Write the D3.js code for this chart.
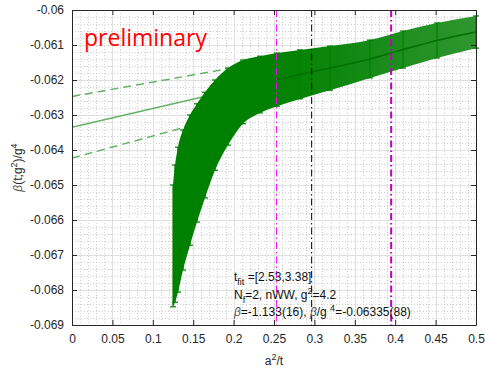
<!DOCTYPE html>
<html>
<head>
<meta charset="utf-8">
<script src="https://cdn.jsdelivr.net/npm/d3@7"></script>
<style>
  html, body { margin: 0; padding: 0; background: #fff; }
  svg { display: block; font-family: "Liberation Sans", Arial, Helvetica, sans-serif; }
</style>
</head>
<body>
<svg id="chart" width="485" height="369"></svg>
<script>
// flow data: a^2/t, beta(t;g^2)/g^4 and its error
const a2t = [0.1250, 0.1275, 0.1312, 0.1374, 0.1460, 0.1547, 0.1646, 0.1770, 0.1931,
             0.2116, 0.2327, 0.2537, 0.2822, 0.3193, 0.3688, 0.4097, 0.4517, 0.5000];
const betaVal = [-0.06674, -0.06639, -0.06599, -0.06543, -0.06486, -0.06437, -0.06386, -0.06329, -0.06276,
                 -0.06234, -0.06213, -0.06199, -0.06184, -0.06166, -0.06140, -0.06113, -0.06087, -0.06063];
const betaErr = [0.00174, 0.00196, 0.00207, 0.00200, 0.00186, 0.00169, 0.00151, 0.00129, 0.00110,
                 0.00091, 0.00081, 0.00076, 0.00070, 0.00063, 0.00054, 0.00053, 0.00050, 0.00046];

// linear extrapolation a^2/t -> 0, with its error band
const fitX = [0, 0.3];
const fitMid = [-0.06335, -0.06174];
const fitUp = [-0.06247, -0.06124];
const fitLo = [-0.06423, -0.06234];

// vertical markers (a^2/t)
const vLines = [
  { x: 0.253, color: "#ff00ff", w: 1 },
  { x: 0.2966, color: "#000000", w: 1 },
  { x: 0.3950, color: "#bf00bf", w: 2 }
];

const xTicks = [0, 0.05, 0.1, 0.15, 0.2, 0.25, 0.3, 0.35, 0.4, 0.45, 0.5];
const yTicks = [-0.069, -0.068, -0.067, -0.066, -0.065, -0.064, -0.063, -0.062, -0.061, -0.06];

const annot = [
  [["t", ""], ["fit", "sub"], [" =[2.53,3.38]", ""]],
  [["N", ""], ["f", "sub"], ["=2, nWW, g", ""], ["2", "sup"], ["=4.2", ""]],
  [["β", "", "#555"], ["=-1.133(16), ", ""], ["β", "", "#555"], ["/g ", ""], ["4", "sup"], ["=-0.06335(88)", ""]]
];

const margin = { top: 10, right: 9, bottom: 44, left: 72 };
const W = 485, H = 369;

const svg = d3.select("#chart");

const x = d3.scaleLinear().domain([0, 0.5]).range([margin.left, W - margin.right]);
const y = d3.scaleLinear().domain([-0.069, -0.06]).range([H - margin.bottom, margin.top]);

const x0 = x.range()[0], x1 = x.range()[1];
const y0 = y.range()[0], y1 = y.range()[1];

// grid: minor dotted, major solid
const grid = svg.append("g");
grid.selectAll(".mx").data(d3.range(0, 51).map(i => i * 0.01)).join("line")
  .attr("x1", d => Math.round(x(d)) + 0.5).attr("x2", d => Math.round(x(d)) + 0.5)
  .attr("y1", y1).attr("y2", y0)
  .attr("stroke", "#d0d0d0").attr("stroke-width", 1).attr("stroke-dasharray", "1,2");
grid.selectAll(".my").data(d3.range(0, 46).map(i => -0.069 + i * 0.0002)).join("line")
  .attr("y1", d => Math.round(y(d)) + 0.5).attr("y2", d => Math.round(y(d)) + 0.5)
  .attr("x1", x0).attr("x2", x1)
  .attr("stroke", "#d0d0d0").attr("stroke-width", 1).attr("stroke-dasharray", "1,2");
grid.selectAll(".gx").data(xTicks).join("line")
  .attr("x1", d => Math.round(x(d)) + 0.5).attr("x2", d => Math.round(x(d)) + 0.5)
  .attr("y1", y1).attr("y2", y0)
  .attr("stroke", "#e0e0e0").attr("stroke-width", 1);
grid.selectAll(".gy").data(yTicks).join("line")
  .attr("y1", d => Math.round(y(d)) + 0.5).attr("y2", d => Math.round(y(d)) + 0.5)
  .attr("x1", x0).attr("x2", x1)
  .attr("stroke", "#e0e0e0").attr("stroke-width", 1);

// fit lines sit under the data
const fitColor = "#66b366";
[[fitMid, null], [fitUp, "8,5"], [fitLo, "8,5"]].forEach(([vals, dash]) => {
  svg.append("line")
    .attr("x1", x(fitX[0])).attr("y1", y(vals[0]))
    .attr("x2", x(fitX[1])).attr("y2", y(vals[1]))
    .attr("stroke", fitColor).attr("stroke-width", 1.5)
    .attr("stroke-dasharray", dash);
});

// data band: dense error bars drawn as a filled area + bars with caps
const pts = a2t.map((d, i) => ({ x: d, v: betaVal[i], e: betaErr[i] }));

const grad = svg.append("defs").append("linearGradient")
  .attr("id", "bandGrad").attr("gradientUnits", "userSpaceOnUse")
  .attr("x1", x(0.25)).attr("x2", x(0.5)).attr("y1", 0).attr("y2", 0);
grad.append("stop").attr("offset", 0).attr("stop-color", "#008000");
grad.append("stop").attr("offset", 1).attr("stop-color", "#2f962f");

svg.append("path").datum(pts)
  .attr("d", d3.area().curve(d3.curveMonotoneX)
    .x(d => x(d.x)).y0(d => y(d.v - d.e)).y1(d => y(d.v + d.e)))
  .attr("fill", "url(#bandGrad)");

const bars = svg.append("g").attr("stroke", "#008000").attr("stroke-width", 1.2);
bars.selectAll(".eb").data(pts).join("line")
  .attr("x1", d => x(d.x)).attr("x2", d => x(d.x))
  .attr("y1", d => y(d.v - d.e)).attr("y2", d => y(d.v + d.e));
bars.selectAll(".ct").data(pts).join("line")
  .attr("x1", d => x(d.x) - 3).attr("x2", d => x(d.x) + 3)
  .attr("y1", d => y(d.v + d.e)).attr("y2", d => y(d.v + d.e));
bars.selectAll(".cb").data(pts).join("line")
  .attr("x1", d => x(d.x) - 3).attr("x2", d => x(d.x) + 3)
  .attr("y1", d => y(d.v - d.e)).attr("y2", d => y(d.v - d.e));

svg.append("path").datum(pts.filter(d => d.x > 0.25))
  .attr("d", d3.line().curve(d3.curveMonotoneX).x(d => x(d.x)).y(d => y(d.v)))
  .attr("fill", "none").attr("stroke", "#007000").attr("stroke-width", 1.5);

// vertical dash-dot lines
svg.selectAll(".vl").data(vLines).join("line")
  .attr("x1", d => x(d.x)).attr("x2", d => x(d.x))
  .attr("y1", y1).attr("y2", y0)
  .attr("stroke", d => d.color).attr("stroke-width", d => d.w)
  .attr("stroke-dasharray", "7,3,1.5,3");

// axes box
const axCol = "#262626";
const fmt = d => String(d);
const xAxis = svg.append("g").attr("transform", `translate(0,${y0})`)
  .call(d3.axisBottom(x).tickValues(xTicks).tickFormat(fmt).tickSizeInner(-5).tickSizeOuter(0).tickPadding(9));
const xTop = svg.append("g").attr("transform", `translate(0,${y1})`)
  .call(d3.axisTop(x).tickValues(xTicks).tickFormat("").tickSizeInner(-5).tickSizeOuter(0));
const yAxis = svg.append("g").attr("transform", `translate(${x0},0)`)
  .call(d3.axisLeft(y).tickValues(yTicks).tickFormat(fmt).tickSizeInner(-5).tickSizeOuter(0).tickPadding(8));
const yRight = svg.append("g").attr("transform", `translate(${x1},0)`)
  .call(d3.axisRight(y).tickValues(yTicks).tickFormat("").tickSizeInner(-5).tickSizeOuter(0));

[xAxis, xTop, yAxis, yRight].forEach(g => {
  g.select(".domain").attr("stroke", axCol);
  g.selectAll(".tick line").attr("stroke", axCol);
  g.selectAll("text").attr("fill", axCol).attr("font-size", 12)
    .attr("font-family", "Liberation Sans, Arial, sans-serif");
});

// axis labels
const xl = svg.append("text").attr("x", (x0 + x1) / 2).attr("y", 365)
  .attr("text-anchor", "middle").attr("font-size", 12).attr("fill", axCol);
xl.append("tspan").text("a");
xl.append("tspan").attr("dy", -5).attr("font-size", 9).text("2");
xl.append("tspan").attr("dy", 5).text("/t");

const yl = svg.append("text")
  .attr("transform", `translate(22,${(y0 + y1) / 2}) rotate(-90)`)
  .attr("text-anchor", "middle").attr("font-size", 12).attr("fill", axCol);
yl.append("tspan").attr("font-style", "italic").attr("fill", "#555").text("β");
yl.append("tspan").text("(t;g");
yl.append("tspan").attr("dy", -5).attr("font-size", 9).text("2");
yl.append("tspan").attr("dy", 5).text(")/g");
yl.append("tspan").attr("dy", -5).attr("font-size", 9).text("4");

// preliminary stamp
svg.append("text").attr("x", 84).attr("y", 46)
  .attr("font-size", 23).attr("fill", "#ff0000")
  .attr("font-family", "Open Sans, Liberation Sans, sans-serif")
  .text("preliminary");

// annotation box text
annot.forEach((parts, i) => {
  const t = svg.append("text").attr("x", 234).attr("y", 281 + i * 17.5)
    .attr("font-size", 12).attr("fill", "#111");
  let shift = 0;
  parts.forEach(([s, kind, col]) => {
    const ts = t.append("tspan").text(s);
    const target = kind === "sub" ? 4 : kind === "sup" ? -5 : 0;
    ts.attr("dy", target - shift);
    shift = target;
    if (kind) ts.attr("font-size", 9);
    if (col) ts.attr("fill", col).attr("font-style", "italic");
  });
});
</script>
</body>
</html>
